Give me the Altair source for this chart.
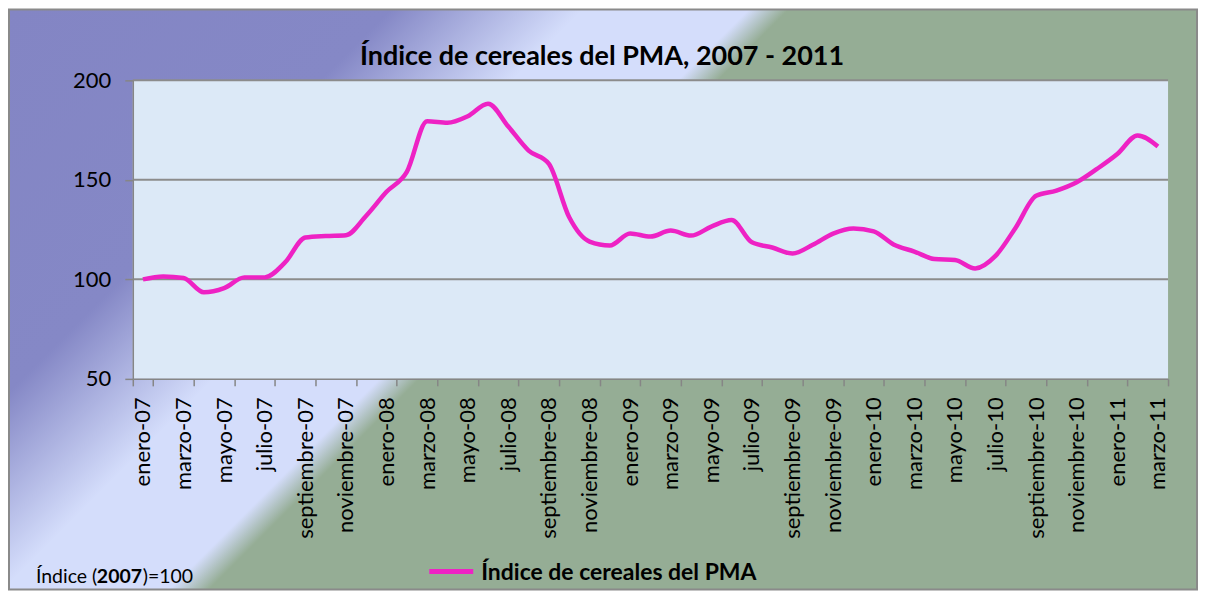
import altair as alt
import pandas as pd

meses = ["enero", "febrero", "marzo", "abril", "mayo", "junio", "julio",
         "agosto", "septiembre", "octubre", "noviembre", "diciembre"]
anios = ["07", "08", "09", "10", "11"]
etiquetas = [f"{m}-{a}" for a in anios for m in meses][:51]

valores = [
    100.0, 101.5, 100.7, 93.5, 95.6, 101.0, 101.0, 108.5, 121.0, 121.8, 122.2, 132.0,
    144.0, 154.0, 179.5, 178.7, 182.0, 188.3, 176.8, 164.7, 158.0, 131.2, 119.0, 117.0,
    123.1, 121.5, 124.5, 122.0, 126.5, 129.8, 118.6, 116.0, 113.0, 117.4, 123.0, 125.6,
    124.1, 117.4, 114.0, 110.2, 109.7, 105.5, 111.8, 126.1, 142.0, 144.6, 148.8, 155.5,
    163.0, 172.3, 166.8,
]
grid_vals = [100, 150, 200]
y_ticks = [50, 100, 150, 200]

titulo = "Índice de cereales del PMA, 2007 - 2011"
serie = "Índice de cereales del PMA"

W, H = 1037, 299
PL, PT, PR, PB = 125, 72, 30, 212
FONT = "Lato"
LINE_COLOR = "#EE22C4"

df = pd.DataFrame({"mes": etiquetas, "valor": valores})
one = pd.DataFrame({"a": [0]})

xenc = alt.X("mes:N", sort=etiquetas, title=None,
             scale=alt.Scale(paddingInner=0, paddingOuter=0),
             axis=alt.Axis(values=etiquetas[::2], labelAngle=-90, tickBand="extent",
                           labelFont=FONT, labelFontSize=22, labelColor="black",
                           tickColor="#868686", domainColor="#868686", tickSize=7,
                           labelPadding=11, domainWidth=1.5, tickWidth=1.5,
                           grid=False, zindex=1))
yaxis = alt.Axis(values=y_ticks, labelFont=FONT, labelFontSize=22,
                 labelColor="black", tickColor="#868686", domainColor="#868686",
                 tickSize=8, labelPadding=14, domainWidth=1.5, tickWidth=1.5,
                 grid=False, zindex=1)
yscale = alt.Scale(domain=[50, 200], nice=False, zero=False)
yenc = alt.Y("valor:Q", title=None, scale=yscale, axis=yaxis)

grad = alt.Gradient(
    gradient="linear", x1=0, y1=0, x2=1, y2=0.488,
    stops=[
        alt.GradientStop(offset=0, color="#8385C4"),
        alt.GradientStop(offset=0.26, color="#8588C6"),
        alt.GradientStop(offset=0.39, color="#D4DDFB"),
        alt.GradientStop(offset=0.503, color="#D4DDFB"),
        alt.GradientStop(offset=0.53, color="#95AD95"),
        alt.GradientStop(offset=1, color="#95AD95"),
    ],
)

bg = alt.Chart(one).mark_rect(fill=grad, stroke="#8A8A8A", strokeWidth=2).encode(
    x=alt.value(-PL + 1), x2=alt.value(W + PR - 1),
    y=alt.value(-PT + 1), y2=alt.value(H + PB - 1))

plotbg = alt.Chart(one).mark_rect(fill="#DCE9F7").encode(
    x=alt.value(0), x2=alt.value(W), y=alt.value(0), y2=alt.value(H))

gdf = pd.DataFrame({"valor": grid_vals})
grid = alt.Chart(gdf).mark_rule(color="#8C8C8C", strokeWidth=2).encode(
    y=yenc, x=alt.value(0), x2=alt.value(W))

line = alt.Chart(df).mark_line(color=LINE_COLOR, strokeWidth=4.5,
                               interpolate="monotone").encode(x=xenc, y=yenc)

title = alt.Chart(one).mark_text(text=titulo, font=FONT, fontSize=27, fontWeight="bold",
                                 color="black", align="center", baseline="middle").encode(
    x=alt.value(603 - 8 - PL), y=alt.value(57 - 80))

FS = 19.5
nota1 = alt.Chart(one).mark_text(text="Índice (", font=FONT, fontSize=FS, color="black",
                                 align="left", baseline="middle").encode(
    x=alt.value(36 - 133), y=alt.value(577 - 80))
nota2 = alt.Chart(one).mark_text(text="2007", font=FONT, fontSize=FS, fontWeight="bold",
                                 color="black", align="left", baseline="middle").encode(
    x=alt.value(97 - 133), y=alt.value(577 - 80))
nota3 = alt.Chart(one).mark_text(text=")=100", font=FONT, fontSize=FS, color="black",
                                 align="left", baseline="middle").encode(
    x=alt.value(143 - 133), y=alt.value(577 - 80))

leg_line = alt.Chart(one).mark_rule(color=LINE_COLOR, strokeWidth=5).encode(
    x=alt.value(430 - 133), x2=alt.value(474 - 133), y=alt.value(572 - 80))
leg_text = alt.Chart(one).mark_text(text=serie, font=FONT, fontSize=23, fontWeight="bold",
                                    color="black", align="left", baseline="middle").encode(
    x=alt.value(482 - 133), y=alt.value(573 - 80))

chart = alt.layer(bg, plotbg, grid, line, title, nota1, nota2, nota3, leg_line, leg_text).properties(
    width=W, height=H,
    autosize=alt.AutoSizeParams(type="none"),
    padding={"left": PL, "top": PT, "right": PR, "bottom": PB},
    background="white",
).configure_view(stroke=None)

chart.save("out.html", embed_options={"renderer": "svg", "actions": False})
